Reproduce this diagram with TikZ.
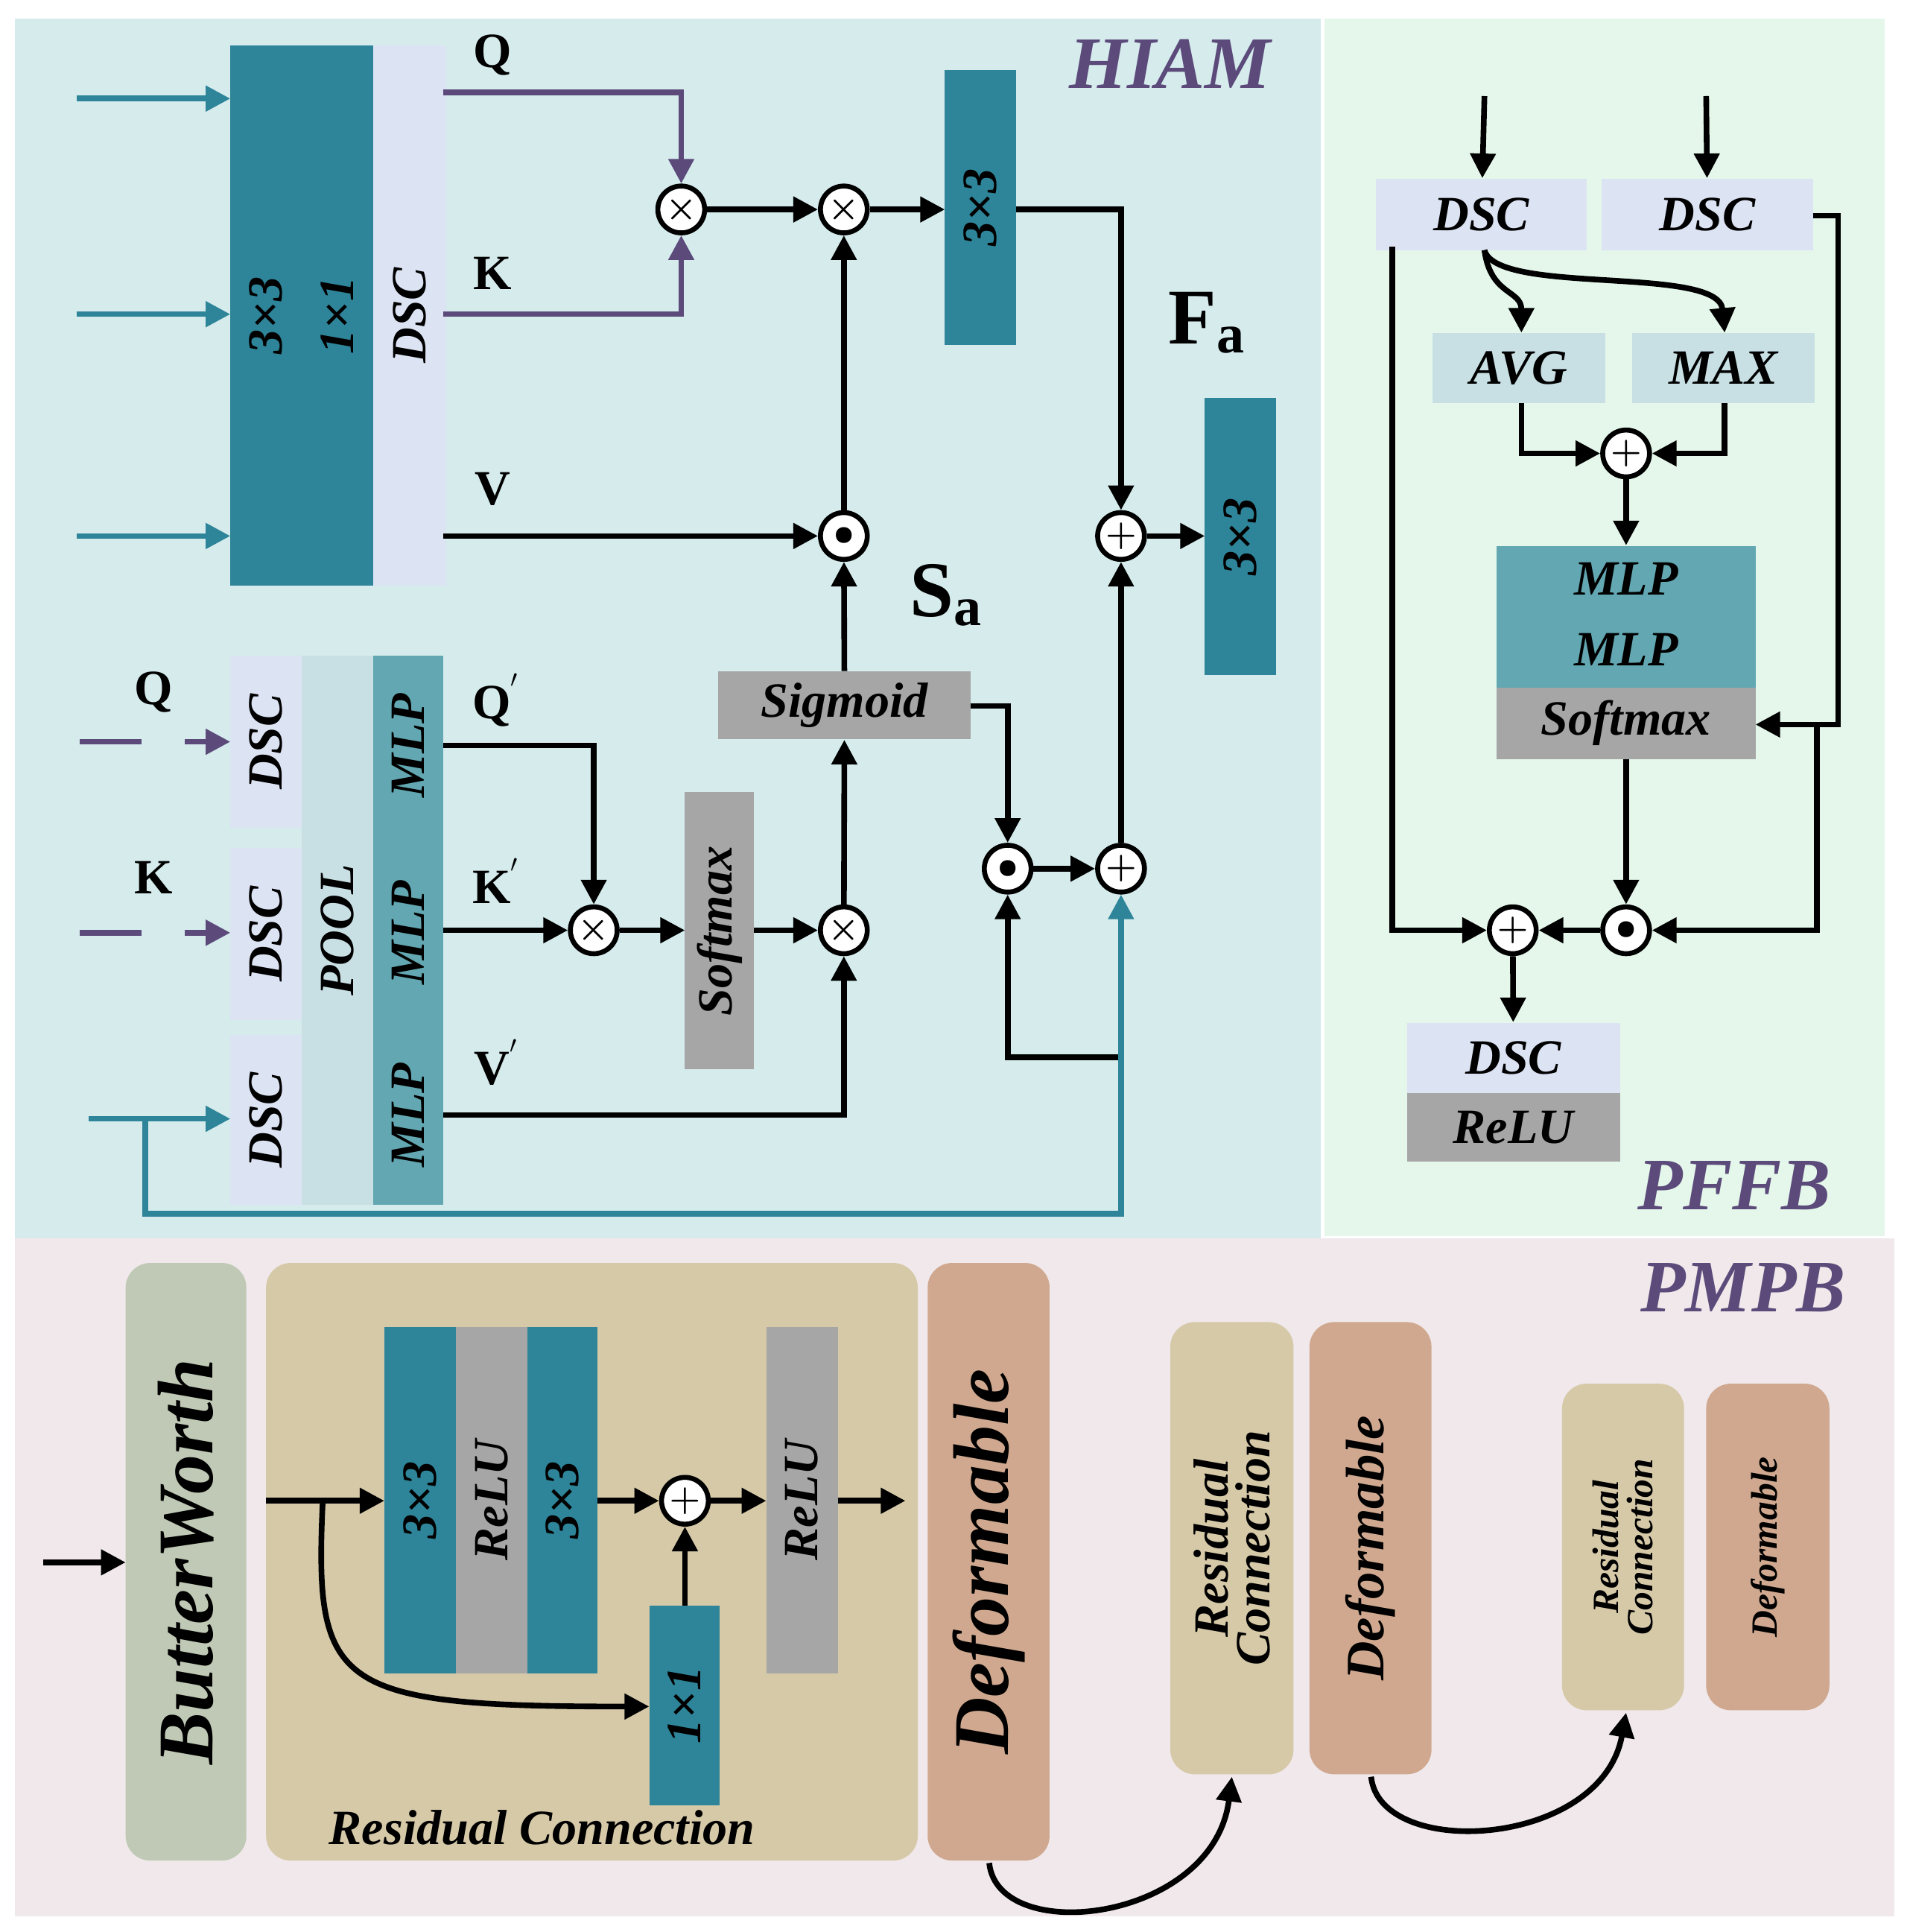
\documentclass[tikz,border=0pt]{standalone}
\usepackage{fontspec}
\setmainfont{Liberation Serif}
\usetikzlibrary{arrows.meta}
\definecolor{teal1}{HTML}{2E8499}
\definecolor{lav}{HTML}{DCE3F3}
\definecolor{pool}{HTML}{C8E0E4}
\definecolor{mlp}{HTML}{62A7B1}
\definecolor{gr}{HTML}{A6A6A6}
\definecolor{pur}{HTML}{5B4A7A}
\definecolor{bw}{HTML}{BFC9B5}
\definecolor{res}{HTML}{D6C9A8}
\definecolor{dfm}{HTML}{CFA88F}
\definecolor{bgA}{HTML}{D5EBEC}
\definecolor{bgB}{HTML}{E4F7EA}
\definecolor{bgC}{HTML}{F0E8EA}
\newcommand\bx[8]{\ifnum#8=0
\node[fill=#6,minimum width={(#4-#2)*0.5pt},minimum height={(#5-#3)*0.5pt},inner sep=0,font=\fontsize{20}{22}\selectfont\bfseries\itshape] (#1) at ({(#2+#4)/2},{(#3+#5)/2}) {#7};
\else
\node[fill=#6,minimum height={(#4-#2)*0.5pt},minimum width={(#5-#3)*0.5pt},inner sep=0,font=\fontsize{20}{22}\selectfont\bfseries\itshape,rotate=90] (#1) at ({(#2+#4)/2},{(#3+#5)/2}) {#7};
\fi}
\newcommand\rbx[7]{\node[fill=#6,rounded corners=10pt,minimum height={(#4-#2)*0.5pt},minimum width={(#5-#3)*0.5pt},inner sep=0,align=center,rotate=90] (#1) at ({(#2+#4)/2},{(#3+#5)/2}) {#7};}
\tikzset{x=0.5pt,y=-0.5pt,
 ar/.style={line width=2.3pt,-{Triangle[length=10pt,width=10pt]}},
 ln/.style={line width=2.3pt},
 op/.style={circle,draw,line width=2pt,fill=white,minimum size=19pt,inner sep=0,font=\boldmath\Large},
 lbl/.style={font=\fontsize{20}{22}\selectfont\bfseries},
 ttl/.style={font=\fontsize{30}{32}\selectfont\bfseries\itshape,text=pur}}
\begin{document}
\begin{tikzpicture}
\useasboundingbox (0,0) rectangle (1550,1568);
\fill[white] (0,0) rectangle (1550,1568);
\fill[bgA] (12,15) rectangle (1072,1008);
\fill[bgB] (1075,15) rectangle (1530,1003);
\fill[bgC] (12,1005) rectangle (1538,1555);
\node[ttl] (t1) at (950,52) {HIAM};
\node[ttl] (t2) at (1408,962) {PFFB};
\node[ttl] (t3) at (1415,1045) {PMPB};
% HIAM top
\bx{c33}{187}{37}{245}{475}{teal1}{3×3}{90}
\bx{c11}{245}{37}{303}{475}{teal1}{1×1}{90}
\bx{cdsc}{303}{37}{362}{475}{lav}{DSC}{90}
\draw[ar,teal1] (62,80) -- (187,80);
\draw[ar,teal1] (62,255) -- (187,255);
\draw[ar,teal1] (62,435) -- (187,435);
\node[lbl] (lq) at (400,45) {Q};
\node[lbl] (lk) at (400,222) {K};
\node[lbl] (lv) at (400,397) {V};
\node[op] (m1) at (553,170) {$\times$};
\node[op] (m2) at (685,170) {$\times$};
\bx{b33a}{767}{57}{825}{280}{teal1}{3×3}{90}
\node[op] (p1) at (910,435) {$+$};
\bx{b33b}{978}{323}{1036}{548}{teal1}{3×3}{90}
\node[lbl,font=\fontsize{32}{34}\selectfont\bfseries] (fa) at (980,262) {F\textsubscript{a}};
\node[op] (d1) at (685,435) {$\bullet$};
\node[lbl,font=\fontsize{32}{34}\selectfont\bfseries] (sa) at (768,483) {S\textsubscript{a}};
\draw[ar,pur] (360,75) -| (m1);
\draw[ar,pur] (360,255) -| (m1);
\draw[ar] (m1) -- (m2);
\draw[ar] (m2) -- (767,170);
\draw[ar] (825,170) -| (p1);
\draw[ar] (p1) -- (978,435);
\draw[ar] (360,435) -- (d1);
\draw[ar] (d1) -- (m2);
% HIAM bottom
\bx{ds1}{187}{532}{245}{672}{lav}{DSC}{90}
\bx{ds2}{187}{688}{245}{828}{lav}{DSC}{90}
\bx{ds3}{187}{840}{245}{978}{lav}{DSC}{90}
\bx{pool}{245}{532}{303}{978}{pool}{POOL}{90}
\bx{mlp}{303}{532}{360}{978}{mlp}{}{90}
\node[font=\fontsize{20}{22}\selectfont\bfseries\itshape,rotate=90] (ml1) at (331,605) {MLP};
\node[font=\fontsize{20}{22}\selectfont\bfseries\itshape,rotate=90] (ml2) at (331,757) {MLP};
\node[font=\fontsize{20}{22}\selectfont\bfseries\itshape,rotate=90] (ml3) at (331,905) {MLP};
\node[lbl] (lq2) at (125,562) {Q};
\node[lbl] (lk2) at (125,712) {K};
\draw[ln,pur] (65,602) -- (115,602); \draw[ar,pur] (150,602) -- (187,602);
\draw[ln,pur] (65,757) -- (115,757); \draw[ar,pur] (150,757) -- (187,757);
\draw[ar,teal1] (72,908) -- (187,908);
\node[lbl] (lq3) at (403,568) {Q$^{'}$};
\node[lbl] (lk3) at (403,715) {K$^{'}$};
\node[lbl] (lv3) at (403,862) {V$^{'}$};
\node[op] (m3) at (482,755) {$\times$};
\bx{smx}{556}{643}{612}{868}{gr}{Softmax}{90}
\node[op] (m4) at (685,755) {$\times$};
\bx{sig}{583}{545}{788}{600}{gr}{Sigmoid}{0}
\node[op] (d2) at (818,705) {$\bullet$};
\node[op] (p2) at (910,705) {$+$};
\draw[ar] (360,605) -| (m3);
\draw[ar] (360,755) -- (m3);
\draw[ar] (m3) -- (556,755);
\draw[ar] (612,755) -- (m4);
\draw[ar] (360,905) -| (m4);
\draw[ar] (m4) -- (sig);
\draw[ar] (sig) -- (d1);
\draw[ar] (788,573) -| (d2);
\draw[ar] (d2) -- (p2);
\draw[ar] (p2) -- (p1);
\draw[ar] (910,858) -- (818,858) -- (d2);
\draw[ar,teal1] (118,908) -- (118,985) -- (910,985) -- (p2);
% PFFB
\bx{fd1}{1117}{145}{1288}{203}{lav}{DSC}{0}
\bx{fd2}{1300}{145}{1472}{203}{lav}{DSC}{0}
\draw[ar] (1205,78) -- (fd1);
\draw[ar] (1385,78) -- (fd2);
\bx{avg}{1163}{270}{1303}{327}{pool}{AVG}{0}
\bx{max}{1325}{270}{1473}{327}{pool}{MAX}{0}
\draw[ar] (1205,203) .. controls (1210,240) and (1235,235) .. (1235,270);
\draw[ar] (1205,203) .. controls (1215,240) and (1395,215) .. (1400,270);
\node[op] (p3) at (1320,368) {$+$};
\draw[ar] (1235,327) |- (p3);
\draw[ar] (1400,327) |- (p3);
\bx{fm}{1215}{443}{1425}{558}{mlp}{}{0}
\node[font=\fontsize{20}{22}\selectfont\bfseries\itshape] (fm1) at (1320,470) {MLP};
\node[font=\fontsize{20}{22}\selectfont\bfseries\itshape] (fm2) at (1320,527) {MLP};
\bx{fs}{1215}{558}{1425}{616}{gr}{Softmax}{0}
\draw[ar] (p3) -- (fm);
\draw[ar] (1472,175) -- (1492,175) -- (1492,588) -- (1425,588);
\node[op] (d3) at (1320,755) {$\bullet$};
\node[op] (p4) at (1228,755) {$+$};
\draw[ar] (1475,590) |- (d3);
\draw[ar] (fs) -- (d3);
\draw[ar] (d3) -- (p4);
\draw[ar] (1130,200) |- (p4);
\bx{fd3}{1142}{830}{1315}{887}{lav}{DSC}{0}
\bx{fr}{1142}{887}{1315}{943}{gr}{ReLU}{0}
\draw[ar] (p4) -- (fd3);
% PMPB
\rbx{bw}{102}{1025}{200}{1510}{bw}{\fontsize{32}{34}\selectfont\bfseries\itshape ButterWorth}
\draw[ar] (35,1268) -- (102,1268);
\node[fill=res,rounded corners=10pt,minimum width={529*0.5pt},minimum height={485*0.5pt},inner sep=0] (rc) at (480.5,1267.5) {};
\node[font=\fontsize{20}{22}\selectfont\bfseries\itshape] (rcl) at (440,1483) {Residual Connection};
\bx{r1}{312}{1077}{370}{1358}{teal1}{3×3}{90}
\bx{r2}{370}{1077}{428}{1358}{gr}{ReLU}{90}
\bx{r3}{428}{1077}{485}{1358}{teal1}{3×3}{90}
\bx{r4}{527}{1303}{584}{1465}{teal1}{1×1}{90}
\bx{r5}{622}{1077}{680}{1358}{gr}{ReLU}{90}
\node[op] (p5) at (556,1218) {$+$};
\draw[ar] (216,1218) -- (312,1218);
\draw[ar] (262,1218) .. controls (255,1370) and (270,1385) .. (527,1385);
\draw[ar] (485,1218) -- (p5);
\draw[ar] (556,1303) -- (p5);
\draw[ar] (p5) -- (622,1218);
\draw[ar] (680,1218) -- (735,1218);
\rbx{df1}{753}{1025}{852}{1510}{dfm}{\fontsize{32}{34}\selectfont\bfseries\itshape Deformable}
\rbx{rc2}{950}{1073}{1050}{1440}{res}{\fontsize{20}{24}\selectfont\bfseries\itshape Residual\\[2pt]\fontsize{20}{24}\selectfont\bfseries\itshape Connection}
\rbx{df2}{1063}{1073}{1162}{1440}{dfm}{\fontsize{22}{24}\selectfont\bfseries\itshape Deformable}
\rbx{rc3}{1268}{1123}{1367}{1388}{res}{\fontsize{15}{20}\selectfont\bfseries\itshape Residual\\[2pt]\fontsize{15}{20}\selectfont\bfseries\itshape Connection}
\rbx{df3}{1385}{1123}{1485}{1388}{dfm}{\fontsize{15}{17}\selectfont\bfseries\itshape Deformable}
\draw[ar] (803,1512) .. controls (810,1580) and (985,1560) .. (1000,1442);
\draw[ar] (1113,1442) .. controls (1120,1510) and (1300,1500) .. (1320,1390);
\end{tikzpicture}
\end{document}
